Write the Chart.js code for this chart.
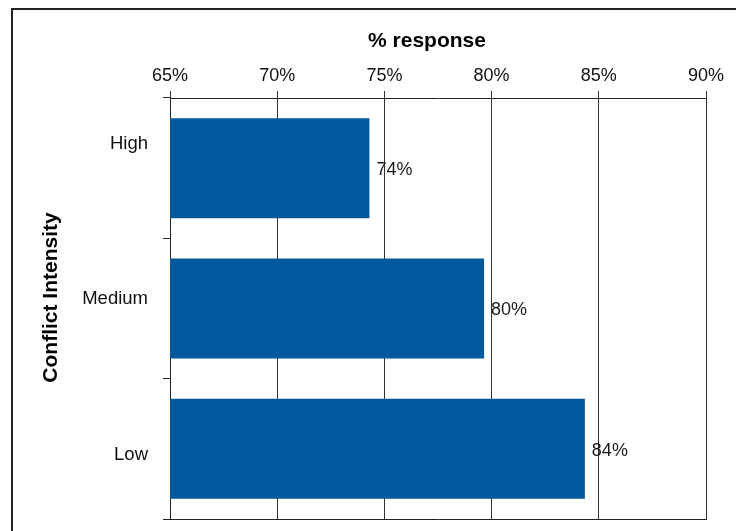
<!DOCTYPE html>
<html>
<head>
<meta charset="utf-8">
<title>Conflict Intensity</title>
<script src="https://cdn.jsdelivr.net/npm/chart.js@4.4.1/dist/chart.umd.min.js"></script>
<style>
  html, body { margin: 0; padding: 0; background: #fff; overflow: hidden; }
  #wrap { position: relative; width: 736px; height: 531px; }
  #frame { position: absolute; left: 11px; top: 8px; width: 800px; height: 600px;
           border-left: 2px solid #222; border-top: 2px solid #222; }
  #chart { position: absolute; left: 0; top: 0; }
</style>
</head>
<body>
<div id="wrap">
  <div id="frame"></div>
  <canvas id="chart" width="736" height="531"></canvas>
</div>
<script>
// Share of responses per conflict intensity level
const categories = ['High', 'Medium', 'Low'];
const responseValues = [74.3, 79.65, 84.35];
const axisMin = 65;
const axisMax = 90;
const axisStep = 5;
const xTitle = '% response';
const yTitle = 'Conflict Intensity';

const FONT = '"Liberation Sans", Arial, sans-serif';
Chart.defaults.font.family = FONT;

// Value labels next to each bar, plus the two axis titles
const barTextPlugin = {
    id: 'barText',
    afterDatasetsDraw(chart) {
        const ctx = chart.ctx;
        const meta = chart.getDatasetMeta(0);
        ctx.save();
        ctx.font = '18px ' + FONT;
        ctx.fillStyle = '#1a1a1a';
        ctx.textAlign = 'left';
        ctx.textBaseline = 'middle';
        meta.data.forEach((bar, i) => {
            ctx.fillText(Math.round(responseValues[i]) + '%', bar.x + 7, bar.y + 2);
        });
        ctx.restore();
    },
    afterDraw(chart) {
        const ctx = chart.ctx;
        const area = chart.chartArea;
        ctx.save();
        ctx.font = 'bold 21px ' + FONT;
        ctx.fillStyle = '#000';
        ctx.textAlign = 'center';
        ctx.textBaseline = 'alphabetic';
        ctx.fillText(xTitle, (area.left + area.right) / 2 - 11, 47);

        ctx.translate(57, (area.top + area.bottom) / 2 - 11);
        ctx.rotate(-Math.PI / 2);
        ctx.fillText(yTitle, 0, 0);
        ctx.restore();
    }
};

const ctx = document.getElementById('chart').getContext('2d');
new Chart(ctx, {
    type: 'bar',
    data: {
        labels: categories,
        datasets: [{
            data: responseValues,
            backgroundColor: '#02589d',
            borderWidth: 0,
            barPercentage: 0.713,
            categoryPercentage: 1.0
        }]
    },
    options: {
        indexAxis: 'y',
        responsive: false,
        animation: false,
        layout: { padding: { top: 0, left: 0, right: 30, bottom: 12 } },
        plugins: {
            legend: { display: false },
            tooltip: { enabled: false }
        },
        scales: {
            x: {
                position: 'top',
                min: axisMin,
                max: axisMax,
                ticks: {
                    stepSize: axisStep,
                    callback: v => v + '%',
                    color: '#111',
                    font: { size: 18 },
                    padding: 4
                },
                grid: { color: '#333', lineWidth: 1, tickLength: 7 },
                border: { color: '#222', width: 1 },
                afterFit(scale) { scale.height = 98; }
            },
            xBottom: {
                type: 'linear',
                position: 'bottom',
                min: axisMin,
                max: axisMax,
                ticks: { display: false },
                grid: { display: false },
                border: { display: true, color: '#222', width: 1 },
                afterFit(scale) { scale.height = 0; }
            },
            // category axis: left border and boundary tick marks
            y: {
                ticks: { display: false },
                grid: { drawOnChartArea: false, tickLength: 7, color: '#222', offset: true },
                border: { color: '#222', width: 1 },
                afterFit(scale) {
                    scale.width = 7;
                    scale.paddingTop = 0;
                    scale.paddingBottom = 0;
                }
            },
            // category names, spread a little wider than the bars
            yLabels: {
                type: 'linear',
                position: 'left',
                weight: 1,
                reverse: true,
                offset: false,
                bounds: 'data',
                min: -0.294,
                max: 2.413,
                afterBuildTicks(scale) {
                    scale.ticks = categories.map((c, i) => ({ value: i }));
                },
                ticks: {
                    autoSkip: false,
                    callback: v => categories[v],
                    color: '#111',
                    font: { size: 18.5 },
                    padding: 15
                },
                grid: { display: false, drawTicks: false, offset: false },
                border: { display: false },
                afterFit(scale) {
                    scale.width = 163;
                    scale.paddingTop = 0;
                    scale.paddingBottom = 0;
                }
            }
        }
    },
    plugins: [barTextPlugin]
});
</script>
</body>
</html>
